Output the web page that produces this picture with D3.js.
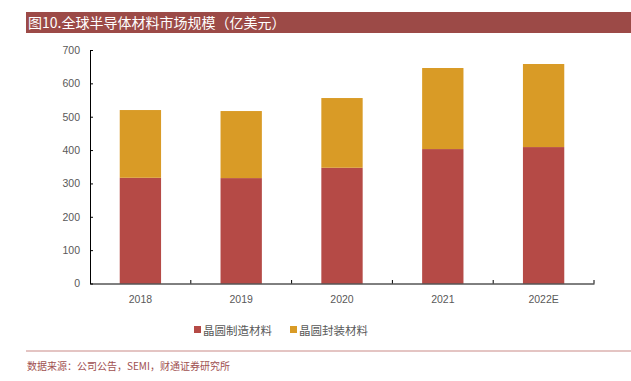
<!DOCTYPE html>
<html><head><meta charset="utf-8">
<script src="https://cdn.jsdelivr.net/npm/d3@7/dist/d3.min.js"></script>
<style>body{margin:0;background:#fff}svg{display:block}</style>
</head><body>
<svg id="c" width="631" height="381"></svg>
<script>
const categories = ["2018","2019","2020","2021","2022E"];
const waferMaterials = [317, 316, 347, 403, 409];
const packagingMaterials = [203, 201, 209, 243, 249];
const seriesNames = ["晶圆制造材料","晶圆封装材料"];
const yTicks = [0,100,200,300,400,500,600,700];
const colors = ["#b54a46","#d99b26"];

const svg = d3.select("#c");
const font = "'Liberation Sans', 'Noto Sans CJK SC', sans-serif";
const cjk = "'Noto Sans CJK SC', sans-serif";

// title bar
svg.append("rect").attr("x",26).attr("y",12).attr("width",605).attr("height",21).attr("fill","#9c4a47");
svg.append("text").attr("x",28).attr("y",28).attr("fill","#fff").attr("font-family",cjk).attr("font-size",14)
  .text("图10.全球半导体材料市场规模（亿美元）");

const x = d3.scaleBand().domain(categories).range([90,594]).paddingInner(0.59).paddingOuter(0.295);
const y = d3.scaleLinear().domain([0,700]).range([283.5,50]);

const stackData = categories.map((c,i)=>({cat:c, a:waferMaterials[i], b:packagingMaterials[i]}));
const stack = d3.stack().keys(["a","b"])(stackData);
stack.forEach((layer,li)=>{
  svg.append("g").selectAll("rect").data(layer).join("rect")
    .attr("x",d=>x(d.data.cat)).attr("width",x.bandwidth())
    .attr("y",d=>y(d[1])).attr("height",d=>y(d[0])-y(d[1]))
    .attr("fill",colors[li]);
});

// y axis
const ya = svg.append("g").attr("transform","translate(90,0)")
  .call(d3.axisLeft(y).tickValues(yTicks).tickSizeInner(-3).tickSizeOuter(0).tickPadding(10));
ya.select(".domain").attr("stroke","#000");
ya.selectAll(".tick line").attr("stroke","#000");
ya.selectAll("text").attr("font-family",font).attr("font-size",10.5).attr("fill","#595959");

// x axis
const xa = svg.append("g").attr("transform","translate(0,283.5)")
  .call(d3.axisBottom(x).tickSize(0).tickPadding(12));
xa.select(".domain").attr("stroke","#000");
xa.selectAll("text").attr("font-family",font).attr("font-size",10.5).attr("fill","#595959");
const step = x.step();
const bounds = d3.range(categories.length+1).map(i=>90+i*step);
svg.append("g").selectAll("line").data(bounds.slice(1)).join("line")
  .attr("x1",d=>d).attr("x2",d=>d).attr("y1",283.5).attr("y2",280).attr("stroke","#000");

// legend
const lg = svg.append("g");
const lx = [194, 290];
seriesNames.forEach((n,i)=>{
  lg.append("rect").attr("x",lx[i]).attr("y",326).attr("width",7).attr("height",7).attr("fill",colors[i]);
  lg.append("text").attr("x",lx[i]+9).attr("y",334.5).attr("font-family",cjk).attr("font-size",11.5)
    .attr("fill","#595959").text(n);
});

// footer
svg.append("line").attr("x1",26).attr("x2",631).attr("y1",351).attr("y2",351).attr("stroke","#c98a87").attr("stroke-width",1);
svg.append("text").attr("x",27).attr("y",370).attr("font-family",cjk).attr("font-size",10).attr("fill","#a05050")
  .text("数据来源：公司公告，SEMI，财通证券研究所");
</script>
</body></html>
